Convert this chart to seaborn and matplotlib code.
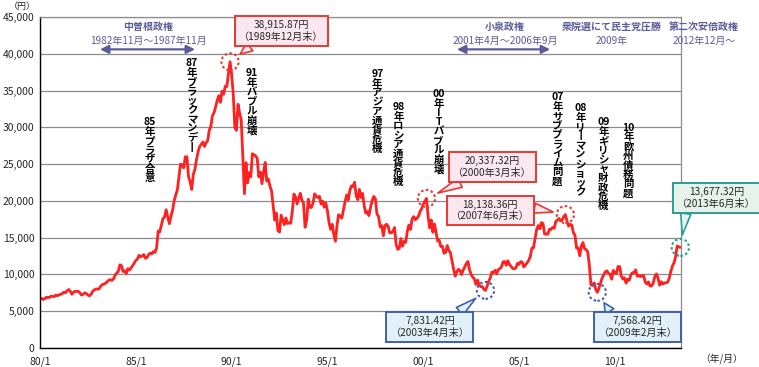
import numpy as np
import pandas as pd
import matplotlib
matplotlib.use("Agg")
import matplotlib.pyplot as plt
import seaborn as sns
from matplotlib.patches import Ellipse

# Nikkei 225 month-end close (yen), 1980/1 - 2013/6
close_1980s = [
    6650, 6750, 6600, 6700, 6900, 6850, 6900, 7050, 7000, 7000, 7200, 7100,
    7250, 7300, 7400, 7600, 7500, 7800, 7950, 7700, 7300, 7600, 7700, 7680,
    7700, 7500, 7200, 7300, 7500, 7400, 7200, 7100, 7300, 7700, 7900, 8020,
    8000, 8050, 8400, 8600, 8700, 8800, 9000, 9200, 9300, 9200, 9400, 9890,
    10200, 10400, 11300, 11200, 10400, 10500, 10100, 10800, 10600, 10900, 11200, 11540,
    11900, 12100, 12600, 12400, 12500, 12700, 12200, 12300, 12700, 12900, 12800, 13110,
    13000, 13600, 15900, 15800, 16700, 17600, 17800, 18800, 17800, 16900, 17900, 18700,
    20000, 20800, 21500, 23300, 25000, 24900, 24500, 26000, 26000, 23300, 22600, 21560,
    23600, 24300, 25600, 26700, 27400, 27700, 28000, 27400, 27900, 28200, 29600, 30160,
    31600, 31985, 32800, 33700, 34300, 33400, 34900, 34500, 35600, 35550, 37300, 38916,
]
close_1990s = [
    37190, 34590, 29980, 29580, 33130, 31940, 31040, 25980, 20980, 25190, 22450, 23850,
    23290, 26410, 26290, 26110, 25790, 23290, 23900, 22340, 23920, 25220, 22690, 22980,
    22020, 21340, 19350, 17390, 18350, 15950, 15760, 18060, 17400, 16770, 17680, 16920,
    17020, 16950, 18590, 20920, 20550, 19590, 20380, 21030, 20100, 19700, 16410, 17420,
    20230, 19110, 19110, 19730, 20970, 20640, 20450, 20630, 19560, 19990, 19140, 19720,
    18650, 17050, 16140, 16810, 15440, 14520, 16680, 18120, 17910, 17650, 18740, 19870,
    20810, 20130, 21400, 22040, 21960, 22530, 20690, 20170, 21560, 20470, 21020, 19360,
    18330, 18560, 18000, 19150, 20070, 20600, 20330, 18230, 17890, 16460, 16630, 15260,
    16630, 16830, 16530, 15640, 15670, 15830, 16380, 14110, 13410, 13560, 14880, 13840,
    14500, 14370, 15840, 16700, 16110, 17530, 17860, 17440, 17600, 17940, 18560, 18934,
]
close_2000s = [
    19540, 19960, 20337, 17970, 16330, 17410, 15730, 16860, 15750, 14540, 14650, 13785,
    13840, 12880, 12999, 13930, 13260, 12970, 11860, 10710, 9770, 10370, 10700, 10540,
    9990, 10590, 11025, 11490, 11760, 10620, 10000, 9620, 9380, 8640, 9220, 8580,
    8340, 8360, 7970, 7831, 8420, 9080, 9560, 10340, 10220, 10560, 10100, 10680,
    10780, 11040, 11720, 11760, 11240, 11860, 11330, 11080, 10820, 10770, 10900, 11490,
    11390, 11740, 11670, 11010, 11280, 11580, 11900, 12410, 13570, 13610, 14870, 16110,
    16650, 16210, 17060, 16910, 15470, 15510, 15460, 16140, 16130, 16400, 16270, 17230,
    17380, 17600, 17290, 17400, 17880, 18138, 17250, 16570, 16790, 16740, 15680, 15310,
    13590, 13600, 12530, 13850, 14340, 13480, 13380, 13070, 11260, 8580, 8510, 8860,
    7990, 7568, 8110, 8830, 9520, 9960, 10360, 10490, 10130, 10030, 9350, 10550,
]
close_2010s = [
    10200, 10130, 11090, 11060, 9770, 9380, 9540, 8820, 9370, 9200, 9940, 10230,
    10240, 10620, 9760, 9850, 9690, 9820, 9830, 8960, 8700, 8990, 8430, 8450,
    8800, 9720, 10080, 9520, 8540, 9010, 8700, 8840, 8870, 8930, 9450, 10400,
    11140, 11560, 12400, 13860, 13770, 13677,
]

x_ticks = [1980, 1985, 1990, 1995, 2000, 2005, 2010]
x_tick_labels = ["80/1", "85/1", "90/1", "95/1", "00/1", "05/1", "10/1"]
y_ticks = list(range(0, 45001, 5000))

# vertical event labels: text, x (year), top (yen)
event_labels = ["85年プラザ合意", "87年ブラックマンデー", "91年バブル崩壊",
                "97年アジア通貨危機", "98年ロシア通貨危機", "00年ITバブル崩壊",
                "07年サブプライム問題", "08年リーマンショック",
                "09年ギリシャ財政危機", "10年欧州債務問題"]
event_x = [1985.74, 1987.93, 1991.06, 1997.6, 1998.7, 2000.8,
           2007.0, 2008.2, 2009.4, 2010.7]
event_top = [31400, 39400, 38000, 37900, 33400, 35200, 34800, 33300, 31400, 30600]

# callouts: marked point (year, month), its exact value, box centre, pointer anchor
callout_dates = [(1989, 12), (2000, 3), (2007, 6), (2003, 4), (2009, 2), (2013, 6)]
callout_values = ["38,915.87", "20,337.32", "18,138.36", "7,831.42", "7,568.42", "13,677.32"]
callout_box_x = [1992.6, 2003.6, 2003.5, 2000.35, 2011.2, 2015.3]
callout_box_y = [43070, 24600, 18700, 2850, 2850, 20400]
callout_relpos = [(0.2, 0), (0.22, 0), (1, 0.65), (0.8, 1), (0.18, 1), (0.12, 0)]
callout_styles = ["red", "red", "red", "blue", "blue", "teal"]

# political eras on top
era_titles = ["中曽根政権", "小泉政権", "衆院選にて民主党圧勝", "第二次安倍政権"]
era_dates = ["1982年11月～1987年11月", "2001年4月～2006年9月", "2009年", "2012年12月～"]
era_x = [1985.64, 2004.27, 2009.85, 2014.66]
era_arrows = [(1983.13, 1988.09), (2001.76, 2006.62)]

close = close_1980s + close_1990s + close_2000s + close_2010s
df = pd.DataFrame({"year": 1980 + np.arange(len(close)) / 12, "close": close})

sns.set_style("white")
plt.rcParams["font.family"] = ["Noto Sans CJK JP", "DejaVu Sans"]

fig = plt.figure(figsize=(7.59, 3.67), dpi=100)
ax = fig.add_axes([40 / 759, 19 / 367, 641 / 759, 331 / 367])

sns.lineplot(data=df, x="year", y="close", ax=ax, color="#ff2020", lw=2.0)

ax.set_xlim(1980, 2013.45)
ax.set_ylim(0, 45000)
ax.set_xticks(x_ticks)
ax.set_xticklabels(x_tick_labels, fontsize=7.5)
ax.set_yticks(y_ticks)
ax.set_yticklabels([f"{v:,}" for v in y_ticks], fontsize=7.5)
ax.tick_params(axis="x", direction="in", length=3, width=0.8, color="#555555", pad=6)
ax.tick_params(axis="y", length=0, pad=4)
ax.set_xlabel("")
ax.set_ylabel("")
ax.yaxis.grid(True, color="#8c8c8c", lw=0.9)
ax.xaxis.grid(False)
for side in ["left", "bottom"]:
    ax.spines[side].set_color("black")
    ax.spines[side].set_linewidth(1.0)
for side in ["top", "right"]:
    ax.spines[side].set_color("#8c8c8c")
    ax.spines[side].set_linewidth(0.9)

fig.text(22 / 759, 1 - 6 / 367, "（円）", fontsize=6.5, ha="center", va="center")
fig.text(722 / 759, 1 - 359 / 367, "（年/月）", fontsize=7, ha="center", va="center")

# vertical event labels
for label, x, top in zip(event_labels, event_x, event_top):
    chars = [label[:2]] + [("丨" if c == "ー" else c) for c in label[2:]]
    ax.text(x, top, "\n".join(chars), ha="center", va="top", fontsize=7.5,
            fontweight="bold", linespacing=0.92, color="black")

# era annotations
era_color = "#5b5b9b"
for title, dates, x in zip(era_titles, era_dates, era_x):
    ax.text(x, 43700, title, ha="center", va="center", fontsize=7.2,
            fontweight="bold", color=era_color, clip_on=False)
    ax.text(x, 41800, dates, ha="center", va="center", fontsize=7.2,
            color=era_color, clip_on=False)
for x0, x1 in era_arrows:
    ax.annotate("", xy=(x1, 40600), xytext=(x0, 40600),
                arrowprops=dict(arrowstyle="<|-|>,head_length=0.5,head_width=0.25",
                                color=era_color, lw=1.6, shrinkA=0, shrinkB=0))

styles = {
    "red": dict(fc="#fbe7f0", ec="#e8382f"),
    "blue": dict(fc="#e2f1f9", ec="#3f5fb0"),
    "teal": dict(fc="#e5f3ea", ec="#2a9d96"),
}
for (yr, mo), val, bx, by, rp, st in zip(callout_dates, callout_values, callout_box_x,
                                         callout_box_y, callout_relpos, callout_styles):
    s = styles[st]
    idx = (yr - 1980) * 12 + (mo - 1)
    px, py = df["year"].iloc[idx], df["close"].iloc[idx]
    ax.add_patch(Ellipse((px, py), 0.9, 2300, fill=False, ec=s["ec"],
                         ls=(0, (1.2, 1.2)), lw=1.5, clip_on=False, zorder=5))
    ax.annotate(f"{val}円\n（{yr}年{mo}月末）", xy=(px, py), xytext=(bx, by),
                ha="center", va="center", fontsize=7.3, linespacing=1.2,
                annotation_clip=False, zorder=6,
                bbox=dict(boxstyle="square,pad=0.4", fc=s["fc"], ec=s["ec"], lw=1.4),
                arrowprops=dict(arrowstyle="wedge,tail_width=1.0,shrink_factor=0.5",
                                fc=s["fc"], ec=s["ec"], lw=1.2, relpos=rp,
                                shrinkA=0, shrinkB=9))

fig.savefig("out.png", dpi=100)
